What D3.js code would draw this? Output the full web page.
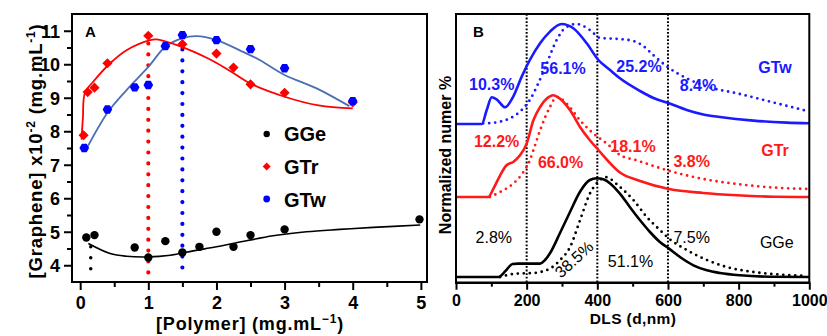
<!DOCTYPE html>
<html><head><meta charset="utf-8">
<script src="https://cdn.jsdelivr.net/npm/d3@7"></script>
<style>
body{margin:0;background:#fff}
svg{display:block}
text{font-family:"Liberation Sans",Arial,sans-serif}
</style>
</head><body><svg id="c" width="827" height="336"></svg>
<script>
// ---------- Panel A data ----------
const ggeX = [0.09,0.21,0.8,1.0,1.25,1.5,1.75,2.0,2.25,2.5,3.0,4.98];
const ggeY = [4.83,4.9,4.53,4.23,4.72,4.38,4.55,5.0,4.55,4.9,5.07,5.37];
const gtrX = [0.05,0.11,0.21,0.4,1.0,1.5,2.0,2.25,2.5,3.0,4.0];
const gtrY = [7.88,9.17,9.3,10.03,10.85,10.6,10.32,9.9,9.4,9.15,8.86];
const gtwX = [0.06,0.4,0.8,1.0,1.25,1.5,2.0,2.5,3.0,4.0];
const gtwY = [7.5,8.65,9.31,9.38,10.54,10.87,10.72,10.45,9.88,8.9];
// fitted curves
const fitGtrX = [0.02,0.04,0.07,0.2,0.44,0.68,1.03,1.12,1.42,1.9,2.2,2.5,3.0,3.5,4.0];
const fitGtrY = [7.75,8.4,9.15,9.5,10.03,10.42,10.72,10.74,10.57,10.15,9.8,9.42,9.03,8.77,8.68];
const fitGtwX = [0.07,0.41,0.68,1.0,1.25,1.49,1.71,2.0,2.39,2.64,3.0,3.47,3.95];
const fitGtwY = [7.39,8.58,9.23,9.92,10.52,10.77,10.84,10.72,10.37,10.12,9.68,9.28,8.75];
const fitGgeX = [0.12,0.44,0.68,1.0,1.32,1.66,2.0,2.44,2.83,3.32,3.81,4.3,4.99];
const fitGgeY = [4.65,4.35,4.27,4.25,4.3,4.43,4.55,4.73,4.88,5.0,5.07,5.13,5.2];
// vertical dotted guide lines: x, yTop, yBottom
const guideX = [0.155,1.0,1.5];
const guideTop = [4.55,10.62,10.44];
const guideBot = [3.58,3.74,3.89];
const xTicksA = [0,1,2,3,4,5];
const yTicksA = [4,5,6,7,8,9,10,11];
const legendA = ["GGe","GTr","GTw"];

// ---------- Panel B data (DLS, d in nm ; normalized number) ----------
const dlsTicks = [0,200,400,600,800,1000];
const dlsGuides = [200,400,600];
const offsets = {GGe:0, GTr:80, GTw:153};
const gtwSolidX = [0,73,87,101,115,139,162,186,209,238,266,299,332,370,403,436,464,521,559,601,653,700,747,842,936,1000];
const gtwSolidY = [0,0,14,26.7,24.7,16.7,27.4,47.4,64,80.7,92.4,100,95.7,80.7,64,54,45.7,33,26,21,14,9.5,7,3.4,1.4,0.7];
const gtwDotX = [77,100,125,153,186,209,233,257,285,308,341,379,408,460,502,530,558,601,653,710,795,889,1000];
const gtwDotY = [0.7,1,2.4,5.7,14,24,40.7,60.7,84,95.7,100,94,86,85,83,78,69,56.5,45.7,37.4,30.7,22.4,12.4];
const gtrSolidX = [0,91,106,125,143,162,181,200,219,238,257,275,294,323,351,379,403,464,521,603,700,795,900,1000];
const gtrSolidY = [0,0,8.4,21.7,31.7,35,41.7,53.4,76.7,90,98.4,101.7,98.4,86.7,70,56.7,47,24.5,16,8,4,1.7,0.3,0];
const gtrDotX = [96,125,162,191,209,219,238,266,285,313,351,389,427,464,511,598,700,795,898,1000];
const gtrDotY = [0,5,13.4,25,36.7,46.7,66.7,90,100,93.4,76.7,63.4,53.4,42,36.7,26.7,18,13,9.5,8];
const ggeSolidX = [0,120,140,160,175,238,252,266,294,323,351,379,398,417,464,492,521,549,577,603,634,672,710,747,804,889,1000];
const ggeSolidY = [0,0,6,13,13.4,13.4,17,23.7,43.7,65.3,85.3,97,98.7,97.7,83.4,70,56.7,45,35,28.4,20,11.7,6.7,4,1.7,0.3,0];
const ggeDotX = [125,172,219,266,294,323,351,379,408,422,464,502,540,577,603,653,710,766,842,936,993];
const ggeDotY = [0,3.4,4,8.4,16.7,30,56.7,83.4,97,100,90,77,60,47,38.4,27,17,10,5,2,1];
// percentage labels: text, d (nm), y (normalized + offset), series
const pctText = ["10.3%","56.1%","25.2%","8.4%","12.2%","66.0%","18.1%","3.8%","2.8%","38.5%","51.1%","7.5%"];
const pctX =    [101,303,518,685,115,296,501,667,107,334,494,667];
const pctY =    [187,203,205,186.3,130.3,108.7,125.3,109.7,34.3,17.7,10.3,33.7];
const pctSer =  ["GTw","GTw","GTw","GTw","GTr","GTr","GTr","GTr","GGe","GGe","GGe","GGe"];
const nameX = [908,903,903];
const nameY = [28.7,121,204.3];
const names = ["GGe","GTr","GTw"];

const colB = {GGe:"#000000", GTr:"#ff1a1a", GTw:"#1a1aff"};

const svg = d3.select("#c");

// ================= Panel A =================
const xA = d3.scaleLinear().domain([-0.12,5.09]).range([72,427]);
const yA = d3.scaleLinear().domain([3.5,11.5]).range([282,14]);
const gA = svg.append("g");

function styleAxis(g, size){
  g.select(".domain").remove();
  g.selectAll(".tick line").attr("stroke","#000").attr("stroke-width",2);
  g.selectAll(".tick text").attr("font-size",size).attr("font-weight","bold").attr("fill","#000")
   .attr("font-family","'Liberation Sans',Arial,sans-serif");
}
// minor ticks
gA.append("g").attr("transform","translate(0,282)")
  .call(d3.axisBottom(xA).tickValues([0.5,1.5,2.5,3.5,4.5]).tickSize(5).tickFormat(""))
  .call(g=>styleAxis(g,18));
gA.append("g").attr("transform","translate(72,0)")
  .call(d3.axisLeft(yA).tickValues([4.5,5.5,6.5,7.5,8.5,9.5,10.5]).tickSize(5).tickFormat(""))
  .call(g=>styleAxis(g,18));
gA.append("g").attr("transform","translate(0,282)")
  .call(d3.axisBottom(xA).tickValues(xTicksA).tickSize(8).tickPadding(6).tickFormat(d3.format("d")))
  .call(g=>styleAxis(g,18));
gA.append("g").attr("transform","translate(72,0)")
  .call(d3.axisLeft(yA).tickValues(yTicksA).tickSize(8).tickPadding(4).tickFormat(d3.format("d")))
  .call(g=>{styleAxis(g,18); g.selectAll(".tick text").attr("dy","0.36em");});

// guide dotted lines
const guideCol = ["#000","#ff0000","#0000ff"];
guideX.forEach((gx,i)=>{
  gA.append("line").attr("x1",xA(gx)).attr("x2",xA(gx)).attr("y1",yA(guideTop[i])).attr("y2",yA(guideBot[i]))
    .attr("stroke",guideCol[i]).attr("stroke-width", i===0?3.5:4.2).attr("stroke-linecap","round")
    .attr("stroke-dasharray","0 10.9");
});

// fitted lines
const lineA = d3.line().x(d=>xA(d[0])).y(d=>yA(d[1])).curve(d3.curveCatmullRom.alpha(0.5));
gA.append("path").datum(d3.zip(fitGgeX,fitGgeY)).attr("d",lineA).attr("fill","none").attr("stroke","#000").attr("stroke-width",1.6);
gA.append("path").datum(d3.zip(fitGtwX,fitGtwY)).attr("d",lineA).attr("fill","none").attr("stroke","#4a70b4").attr("stroke-width",1.8);
gA.append("path").datum(d3.zip(fitGtrX,fitGtrY)).attr("d",lineA).attr("fill","none").attr("stroke","#ff0000").attr("stroke-width",1.8);

// markers
gA.append("g").selectAll("circle").data(d3.zip(ggeX,ggeY)).join("circle")
  .attr("cx",d=>xA(d[0])).attr("cy",d=>yA(d[1])).attr("r",4.2).attr("fill","#000");
gA.append("g").selectAll("path").data(d3.zip(gtrX,gtrY)).join("path")
  .attr("d",d3.symbol(d3.symbolSquare,52)).attr("transform",d=>`translate(${xA(d[0])},${yA(d[1])}) rotate(45)`).attr("fill","#ff0000");
gA.append("g").selectAll("path").data(d3.zip(gtwX,gtwY)).join("path")
  .attr("d",d=>{const r=4.8;let p="";for(let k=0;k<6;k++){const a=Math.PI/3*k;p+=(k?"L":"M")+(r*Math.cos(a)).toFixed(2)+","+(r*Math.sin(a)).toFixed(2);}return p+"Z";})
  .attr("transform",d=>`translate(${xA(d[0])},${yA(d[1])})`).attr("fill","#0000ff");

// frame
gA.append("rect").attr("x",72).attr("y",14).attr("width",355).attr("height",268).attr("fill","none").attr("stroke","#000").attr("stroke-width",2);

// legend
const legY=[134,166.5,199];
legendA.forEach((n,i)=>{
  const cx=266.7, cy=legY[i];
  if(i===0) gA.append("circle").attr("cx",cx).attr("cy",cy).attr("r",3.2).attr("fill","#000");
  if(i===1) gA.append("path").attr("d",d3.symbol(d3.symbolSquare,32)).attr("transform",`translate(${cx},${cy}) rotate(45)`).attr("fill","#ff0000");
  if(i===2) gA.append("circle").attr("cx",cx).attr("cy",cy).attr("r",3.4).attr("fill","#0000ff");
  gA.append("text").attr("x",284).attr("y",cy+7.5+(i===0?-0.5:0)).attr("font-size",20).attr("font-weight","bold").text(n);
});

gA.append("text").attr("x",85).attr("y",36.5).attr("font-size",15).attr("font-weight","bold").text("A");

// axis titles A
const tx = gA.append("text").attr("x",250).attr("y",330).attr("text-anchor","middle").attr("font-size",18).attr("font-weight","bold").attr("letter-spacing",0.8);
tx.append("tspan").text("[Polymer] (mg.mL");
tx.append("tspan").attr("dy",-7).attr("font-size",12).text("\u22121");
tx.append("tspan").attr("dy",7).text(")");
const ty = gA.append("text").attr("transform","translate(42,151) rotate(-90)").attr("text-anchor","middle").attr("font-size",18.5).attr("font-weight","bold").attr("letter-spacing",0.8);
ty.append("tspan").text("[Graphene] x10");
ty.append("tspan").attr("dy",-7).attr("font-size",12).text("-2");
ty.append("tspan").attr("dy",7).text(" (mg.mL");
ty.append("tspan").attr("dy",-7).attr("font-size",12).text("-1");
ty.append("tspan").attr("dy",7).text(")");

// ================= Panel B =================
const xB = d3.scaleLinear().domain([0,1000]).range([456,809.3]);
const yB = d3.scaleLinear().domain([-5.7,263]).range([282.7,14]);
const gB = svg.append("g");
gB.append("defs").append("clipPath").attr("id","clipB").append("rect").attr("x",456).attr("y",14).attr("width",353.3).attr("height",268.7);

gB.append("g").attr("transform","translate(0,282.7)")
  .call(d3.axisBottom(xB).tickValues([100,300,500,700,900]).tickSize(4).tickFormat(""))
  .call(g=>styleAxis(g,16));
gB.append("g").attr("transform","translate(0,282.7)")
  .call(d3.axisBottom(xB).tickValues(dlsTicks).tickSize(7).tickPadding(5).tickFormat(d3.format("d")))
  .call(g=>styleAxis(g,16));

// guides
dlsGuides.forEach(v=>{
  gB.append("line").attr("x1",xB(v)).attr("x2",xB(v)).attr("y1",14).attr("y2",282.7)
    .attr("stroke","#000").attr("stroke-width",2).attr("stroke-dasharray","1.8 1.8");
});

const lineB = d3.line().x(d=>xB(d[0])).y(d=>yB(d[1])).curve(d3.curveMonotoneX);
const curves = [
  ["GGe",ggeSolidX,ggeSolidY,false],["GGe",ggeDotX,ggeDotY,true],
  ["GTr",gtrSolidX,gtrSolidY,false],["GTr",gtrDotX,gtrDotY,true],
  ["GTw",gtwSolidX,gtwSolidY,false],["GTw",gtwDotX,gtwDotY,true]
];
const cg = gB.append("g").attr("clip-path","url(#clipB)");
curves.forEach(([s,xs,ys,dot])=>{
  const data = xs.map((x,i)=>[x, ys[i]+offsets[s]]);
  const p = cg.append("path").datum(data).attr("d",lineB).attr("fill","none").attr("stroke",colB[s])
    .attr("stroke-width",2.6);
  if(dot) p.attr("stroke-dasharray","0 6").attr("stroke-linecap","round").attr("stroke-width",2.8);
});

// frame B
gB.append("path").attr("d","M456,282.7 V14 H809.3 V282.7").attr("fill","none").attr("stroke","#000").attr("stroke-width",2);
gB.append("line").attr("x1",455).attr("x2",810.3).attr("y1",282.7).attr("y2",282.7).attr("stroke","#000").attr("stroke-width",2.5);

// labels
pctText.forEach((t,i)=>{
  const s=pctSer[i];
  const el = gB.append("text").attr("text-anchor","middle").attr("font-size",16)
    .attr("font-weight", s==="GGe"?"normal":"bold").attr("fill",colB[s]).text(t);
  if(t==="38.5%"){
    el.attr("transform",`translate(${xB(pctX[i])},${yB(pctY[i])}) rotate(-42)`).attr("dy","0.35em");
  } else {
    el.attr("x",xB(pctX[i])).attr("y",yB(pctY[i]));
  }
});
names.forEach((n,i)=>{
  gB.append("text").attr("x",xB(nameX[i])).attr("y",yB(nameY[i])).attr("text-anchor","middle").attr("font-size",16)
    .attr("font-weight", n==="GGe"?"normal":"bold").attr("fill",colB[n]).text(n);
});
gB.append("text").attr("x",473).attr("y",36.5).attr("font-size",15).attr("font-weight","bold").text("B");
gB.append("text").attr("x",633).attr("y",324).attr("text-anchor","middle").attr("font-size",15.5).attr("font-weight","bold").attr("letter-spacing",0.4).text("DLS (d,nm)");
gB.append("text").attr("transform","translate(451,155) rotate(-90)").attr("text-anchor","middle").attr("font-size",16).attr("font-weight","bold").text("Normalized numer %");
</script></body></html>
